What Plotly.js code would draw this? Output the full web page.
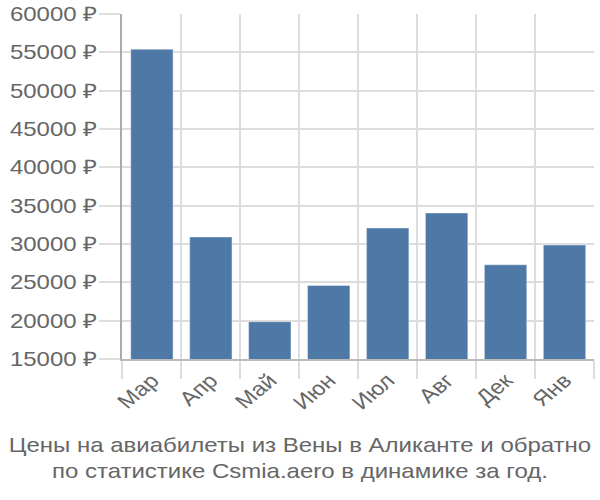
<!DOCTYPE html>
<html>
<head>
<meta charset="utf-8">
<script src="https://cdn.plot.ly/plotly-3.0.1.min.js"></script>
<style>
html,body{margin:0;padding:0;background:#fff;overflow:hidden;}
#wrap{width:600px;height:500px;overflow:hidden;}
#chart{width:500px;height:500px;transform:scaleX(1.2);transform-origin:0 0;}
</style>
</head>
<body>
<div id="wrap"><div id="chart"></div></div>
<script>
const months = ["Мар", "Апр", "Май", "Июн", "Июл", "Авг", "Дек", "Янв"];
const prices = [55400, 30900, 19870, 24600, 32090, 34040, 27300, 29870];
const yTicks = [15000, 20000, 25000, 30000, 35000, 40000, 45000, 50000, 55000, 60000];
const titleText = "Цены на авиабилеты из Вены в Аликанте и обратно<br>по статистике Csmia.aero в динамике за год.";

const trace = {
  type: "bar",
  x: months,
  y: prices,
  marker: {color: "#4e79a7", line: {color: "rgba(255,255,255,0.4)", width: 1}},
  width: 0.72,
  hoverinfo: "x+y"
};

const layout = {
  width: 500,
  height: 500,
  margin: {l: 102, r: 5, t: 14, b: 141},
  paper_bgcolor: "#fff",
  plot_bgcolor: "#fff",
  font: {family: "Liberation Sans, Arial, sans-serif", size: 20, color: "#666"},
  showlegend: false,
  title: {
    text: titleText,
    x: 0.5, xref: "container", xanchor: "center",
    y: 0.096, yref: "container", yanchor: "top",
    font: {size: 20, color: "#666", family: "Liberation Sans, Arial, sans-serif"}
  },
  xaxis: {
    type: "category",
    tickson: "boundaries",
    ticks: "outside",
    ticklen: 18,
    tickcolor: "#ddd",
    tickwidth: 1.6,
    showgrid: true,
    gridcolor: "#ddd",
    gridwidth: 1.6,
    showline: true,
    linecolor: "#bbb",
    linewidth: 2,
    tickangle: -45,
    tickfont: {size: 20, color: "#666"},
    zeroline: false
  },
  yaxis: {
    range: [15000, 60000],
    tickvals: yTicks,
    ticktext: yTicks.map(v => v + " ₽"),
    ticks: "outside",
    ticklen: 18,
    ticklabelstandoff: -3,
    tickcolor: "#ddd",
    tickwidth: 2,
    showgrid: true,
    gridcolor: "#ddd",
    gridwidth: 2,
    showline: true,
    linecolor: "#aaa",
    linewidth: 1.8,
    zeroline: false,
    tickfont: {size: 20, color: "#666"}
  }
};

Plotly.newPlot("chart", [trace], layout, {displayModeBar: false, staticPlot: true});
</script>
</body>
</html>
